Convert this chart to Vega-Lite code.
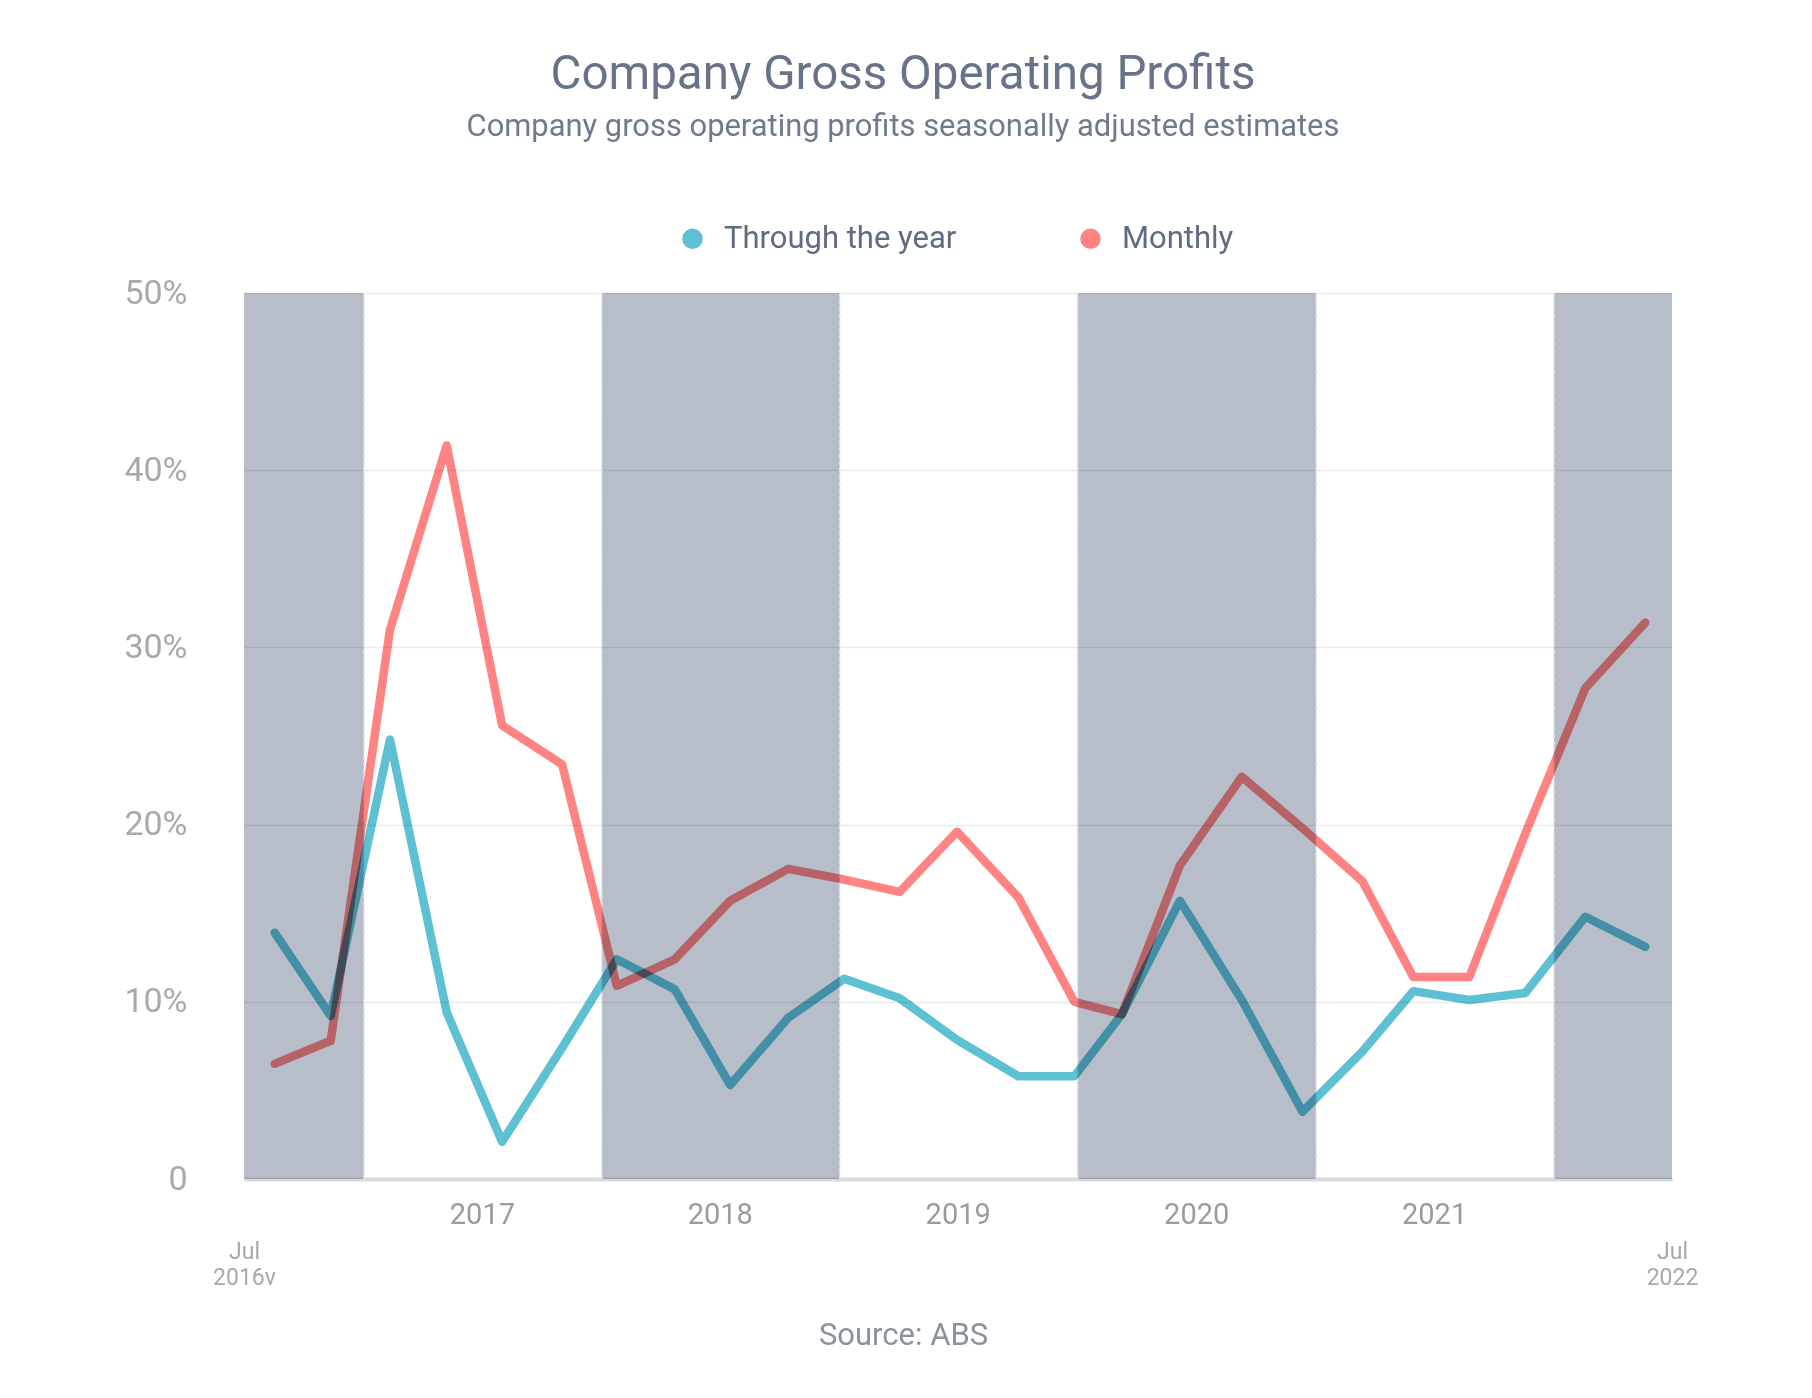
{
  "$schema": "https://vega.github.io/schema/vega-lite/v6.json",
  "width": 1428,
  "height": 886,
  "autosize": {"type": "none"},
  "padding": {"left": 244, "top": 293, "right": 140, "bottom": 219},
  "background": "white",
  "config": {"font": "Roboto", "view": {"stroke": null}},
  "title": {
    "text": "Company Gross Operating Profits",
    "subtitle": "Company gross operating profits seasonally adjusted estimates",
    "anchor": "middle",
    "frame": "group",
    "dx": -55,
    "fontSize": 47.5,
    "fontWeight": 400,
    "color": "#667388",
    "subtitleFontSize": 30.9,
    "subtitleColor": "#6e7a8d",
    "subtitlePadding": 14,
    "offset": 81
  },
  "datasets": {
    "bands": [
      {"start": "2016-07-01", "end": "2017-01-01"},
      {"start": "2018-01-01", "end": "2019-01-01"},
      {"start": "2020-01-01", "end": "2021-01-01"},
      {"start": "2022-01-01", "end": "2022-07-01"}
    ],
    "edges": [
      {"date": "2017-01-01"},
      {"date": "2018-01-01"},
      {"date": "2019-01-01"},
      {"date": "2020-01-01"},
      {"date": "2021-01-01"},
      {"date": "2022-01-01"}
    ],
    "series": [
      {"date": "2016-08-17", "series": "Through the year", "value": 13.9},
      {"date": "2016-11-11", "series": "Through the year", "value": 9.2},
      {"date": "2017-02-10", "series": "Through the year", "value": 24.8},
      {"date": "2017-05-08", "series": "Through the year", "value": 9.4},
      {"date": "2017-08-01", "series": "Through the year", "value": 2.1},
      {"date": "2017-11-01", "series": "Through the year", "value": 7.4},
      {"date": "2018-01-24", "series": "Through the year", "value": 12.4},
      {"date": "2018-04-23", "series": "Through the year", "value": 10.7},
      {"date": "2018-07-17", "series": "Through the year", "value": 5.3},
      {"date": "2018-10-14", "series": "Through the year", "value": 9.1},
      {"date": "2019-01-08", "series": "Through the year", "value": 11.3},
      {"date": "2019-04-03", "series": "Through the year", "value": 10.2},
      {"date": "2019-06-30", "series": "Through the year", "value": 7.85},
      {"date": "2019-10-02", "series": "Through the year", "value": 5.8},
      {"date": "2019-12-27", "series": "Through the year", "value": 5.8},
      {"date": "2020-03-09", "series": "Through the year", "value": 9.3},
      {"date": "2020-06-06", "series": "Through the year", "value": 15.7},
      {"date": "2020-09-09", "series": "Through the year", "value": 10.1},
      {"date": "2020-12-11", "series": "Through the year", "value": 3.8},
      {"date": "2021-03-13", "series": "Through the year", "value": 7.2},
      {"date": "2021-05-30", "series": "Through the year", "value": 10.6},
      {"date": "2021-08-24", "series": "Through the year", "value": 10.1},
      {"date": "2021-11-18", "series": "Through the year", "value": 10.5},
      {"date": "2022-02-18", "series": "Through the year", "value": 14.8},
      {"date": "2022-05-21", "series": "Through the year", "value": 13.1},
      {"date": "2016-08-17", "series": "Monthly", "value": 6.5},
      {"date": "2016-11-11", "series": "Monthly", "value": 7.8},
      {"date": "2017-02-10", "series": "Monthly", "value": 31.0},
      {"date": "2017-05-08", "series": "Monthly", "value": 41.4},
      {"date": "2017-08-01", "series": "Monthly", "value": 25.6},
      {"date": "2017-11-01", "series": "Monthly", "value": 23.4},
      {"date": "2018-01-24", "series": "Monthly", "value": 10.9},
      {"date": "2018-04-23", "series": "Monthly", "value": 12.4},
      {"date": "2018-07-17", "series": "Monthly", "value": 15.7},
      {"date": "2018-10-14", "series": "Monthly", "value": 17.5},
      {"date": "2019-01-08", "series": "Monthly", "value": 16.9},
      {"date": "2019-04-03", "series": "Monthly", "value": 16.2},
      {"date": "2019-06-30", "series": "Monthly", "value": 19.6},
      {"date": "2019-10-02", "series": "Monthly", "value": 15.9},
      {"date": "2019-12-27", "series": "Monthly", "value": 10.0},
      {"date": "2020-03-09", "series": "Monthly", "value": 9.3},
      {"date": "2020-06-06", "series": "Monthly", "value": 17.7},
      {"date": "2020-09-09", "series": "Monthly", "value": 22.7},
      {"date": "2020-12-11", "series": "Monthly", "value": 19.8},
      {"date": "2021-03-13", "series": "Monthly", "value": 16.8},
      {"date": "2021-05-30", "series": "Monthly", "value": 11.4},
      {"date": "2021-08-24", "series": "Monthly", "value": 11.4},
      {"date": "2021-11-18", "series": "Monthly", "value": 19.5},
      {"date": "2022-02-18", "series": "Monthly", "value": 27.7},
      {"date": "2022-05-21", "series": "Monthly", "value": 31.4}
    ]
  },
  "layer": [
    {
      "data": {"name": "bands"},
      "mark": {"type": "rect", "color": "#b7bec9", "blend": "multiply"},
      "encoding": {
        "x": {
          "field": "start",
          "type": "temporal",
          "scale": {
            "type": "utc",
            "nice": false,
            "domain": [
              {"year": 2016, "month": 7, "date": 1, "utc": true},
              {"year": 2022, "month": 7, "date": 1, "utc": true}
            ]
          },
          "axis": {
            "orient": "bottom",
            "values": [
              {"year": 2017, "month": 7, "date": 1, "utc": true},
              {"year": 2018, "month": 7, "date": 1, "utc": true},
              {"year": 2019, "month": 7, "date": 1, "utc": true},
              {"year": 2020, "month": 7, "date": 1, "utc": true},
              {"year": 2021, "month": 7, "date": 1, "utc": true}
            ],
            "labelExpr": "utcFormat(datum.value, '%Y')",
            "ticks": false,
            "grid": false,
            "domain": true,
            "domainColor": "#d9dadd",
            "domainWidth": 4,
            "labelFontSize": 29,
            "labelColor": "#9b9b9b",
            "labelPadding": 21,
            "title": null
          }
        },
        "x2": {"field": "end"}
      }
    },
    {
      "data": {"name": "edges"},
      "mark": {"type": "rule", "color": "#e2e5ea", "strokeDash": [4, 3], "strokeWidth": 1.5},
      "encoding": {
        "x": {"field": "date", "type": "temporal", "axis": null}
      }
    },
    {
      "data": {"name": "series"},
      "mark": {"type": "line", "strokeWidth": 8.5, "strokeCap": "round", "strokeJoin": "round", "blend": "multiply"},
      "encoding": {
        "x": {
          "field": "date",
          "type": "temporal",
          "scale": {
            "type": "utc",
            "nice": false,
            "domain": [
              {"year": 2016, "month": 7, "date": 1, "utc": true},
              {"year": 2022, "month": 7, "date": 1, "utc": true}
            ]
          },
          "axis": {
            "orient": "bottom",
            "values": [
              {"year": 2016, "month": 7, "date": 1, "utc": true},
              {"year": 2022, "month": 7, "date": 1, "utc": true}
            ],
            "labelExpr": "utcyear(datum.value) == 2016 ? ['Jul', '2016v'] : ['Jul', '2022']",
            "ticks": false,
            "grid": false,
            "domain": false,
            "labelFontSize": 23,
            "labelLineHeight": 26,
            "labelColor": "#a9a9a9",
            "labelPadding": 61,
            "labelFlush": false,
            "labelOverlap": false,
            "labelBound": false,
            "title": "Source: ABS",
            "titleFontSize": 31,
            "titleFontWeight": 400,
            "titleColor": "#8a929d",
            "titleX": 659,
            "titlePadding": 31
          }
        },
        "y": {
          "field": "value",
          "type": "quantitative",
          "scale": {"domain": [0, 50], "nice": false},
          "axis": {
            "values": [0, 10, 20, 30, 40, 50],
            "labelExpr": "datum.value == 0 ? '0' : datum.value + '%'",
            "ticks": false,
            "domain": false,
            "grid": true,
            "gridColor": "#ebebeb",
            "gridWidth": 1.5,
            "labelFontSize": 34,
            "labelColor": "#a9a9a9",
            "labelPadding": 57,
            "labelDy": 4,
            "title": null
          }
        },
        "color": {
          "field": "series",
          "type": "nominal",
          "scale": {"domain": ["Through the year", "Monthly"], "range": ["#5dc0d3", "#ff8383"]},
          "legend": {
            "orient": "none",
            "legendX": 433,
            "legendY": -70,
            "direction": "horizontal",
            "title": null,
            "symbolType": "circle",
            "symbolSize": 420,
            "symbolStrokeWidth": 0,
            "labelFontSize": 31,
            "labelLimit": 500,
            "labelColor": "#5f6b80",
            "labelOffset": 16,
            "columnPadding": 118,
            "encode": {
              "symbols": {"update": {"fill": {"scale": "color", "field": "value"}, "opacity": {"value": 1}}}
            }
          }
        }
      }
    }
  ],
  "resolve": {"axis": {"x": "independent"}}
}
